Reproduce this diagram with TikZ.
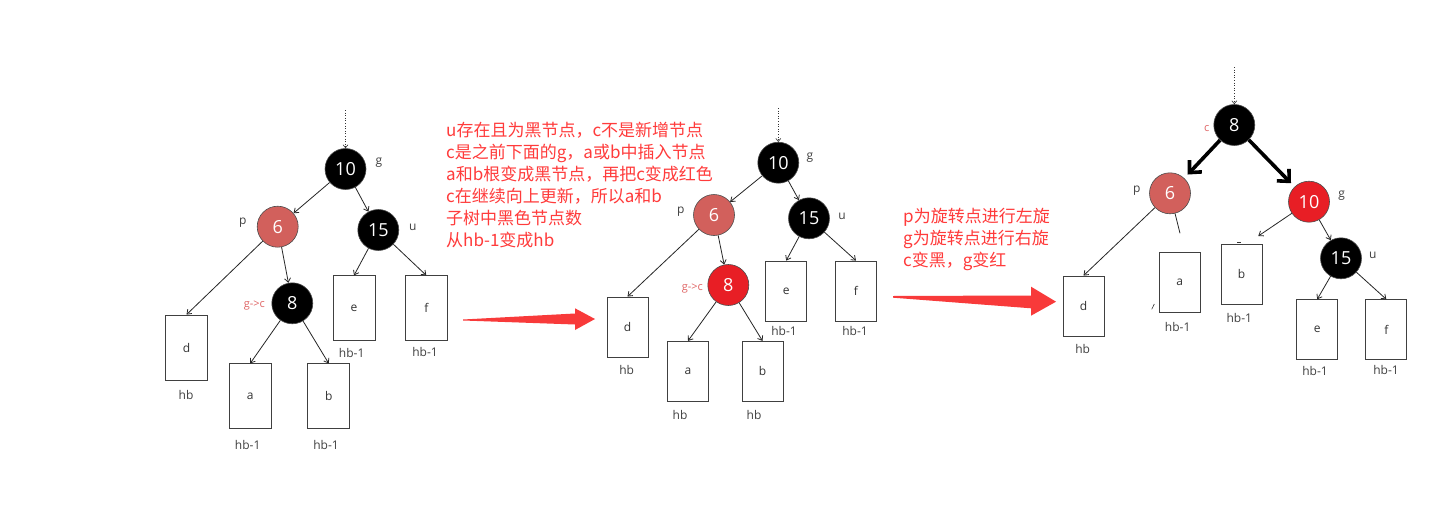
\documentclass[tikz,border=0pt]{standalone}
\usepackage{fontspec}
\setmainfont{Open Sans}
\newfontfamily\cjk{Noto Sans CJK SC}
\usetikzlibrary{arrows.meta}
\definecolor{tred}{HTML}{FF3B3B}
\definecolor{arrred}{HTML}{F83A3A}
\definecolor{pcol}{HTML}{D2605C}
\definecolor{rcol}{HTML}{E81E25}
\definecolor{tagc}{HTML}{E06666}
\tikzset{
  rb/.style={circle, draw=black!70, line width=0.6pt, minimum size=41pt, inner sep=0pt, text=white, font=\fontsize{18}{18}\selectfont},
  blk/.style={rb, fill=black},
  pnode/.style={rb, fill=pcol},
  rnode/.style={rb, fill=rcol},
  leaf/.style={draw=black!75, line width=0.8pt, minimum width=41pt, minimum height=60pt, inner sep=0pt, font=\fontsize{12}{12}\selectfont, text=black!80},
  leafA/.style={leaf, minimum width=42pt, minimum height=65pt},
  lbl/.style={font=\fontsize{12}{12}\selectfont, text=black!75, inner sep=0pt},
  tag/.style={font=\fontsize{11}{11}\selectfont, text=tagc, inner sep=0pt},
  edge/.style={draw=black!85, line width=0.8pt, -{Straight Barb[length=4pt,width=6pt]}},
  bigedge/.style={draw=black, line width=3.6pt, -{Straight Barb[length=9pt,width=17pt]}, shorten >=5pt},
  rootin/.style={draw=black!80, dotted, line width=0.6pt, -{Straight Barb[length=3pt,width=5pt]}},
  note/.style={font=\cjk\fontsize{17}{22}\selectfont, text=tred, align=left, anchor=north west, inner sep=0pt},
}
\begin{document}
\begin{tikzpicture}[x=1pt,y=-1pt]
\useasboundingbox[fill=white] (0,0) rectangle (1451,522);

% ---------------- Tree 1 ----------------
\coordinate (r1) at (345.5,110);
\node[blk]   (a10) at (345.5,169) {10};
\node[pnode] (a6)  at (277.7,226.7) {6};
\node[blk]   (a15) at (378.3,230) {15};
\node[blk]   (a8)  at (292.3,303.3) {8};
\node[lbl] at (379,163) {g};
\node[lbl] at (242.7,222.7) {p};
\node[lbl] at (412.7,227.3) {u};
\node[tag] at (254.3,305.7) {g->c};
\node[leafA] (ad) at (186.5,347.5) {d};
\node[leafA] (aa) at (250.2,396.3) {a};
\node[leafA] (ab) at (328.7,396.3) {b};
\node[leafA] (ae) at (354,308.3) {e};
\node[leafA] (af) at (426.3,308.3) {f};
\node[lbl] at (186,395) {hb};
\node[lbl] at (247.7,445) {hb-1};
\node[lbl] at (326,445) {hb-1};
\node[lbl] at (351.7,352.7) {hb-1};
\node[lbl] at (425,351.7) {hb-1};
\draw[rootin] (r1) -- (a10);
\draw[edge] (a10) -- (a6);
\draw[edge] (a10) -- (a15);
\draw[edge] (a6) -- (ad.north);
\draw[edge] (a6) -- (a8);
\draw[edge] (a8) -- (aa.north);
\draw[edge] (a8) -- (ab.north);
\draw[edge] (a15) -- (ae.north);
\draw[edge] (a15) -- (af.north);

% notes
\node[note] (n1) at (446,122) {u存在且为黑节点，c不是新增节点\\c是之前下面的g，a或b中插入节点\\a和b根变成黑节点，再把c变成红色\\c在继续向上更新，所以a和b\\子树中黑色节点数\\从hb-1变成hb};
\node[note] (n2) at (903,208) {p为旋转点进行左旋\\g为旋转点进行右旋\\c变黑，g变红};

% red arrows
\fill[arrred] (463,319.5) -- (575,313.5) -- (575,308.3) -- (595,319) -- (575,330) -- (575,324.5) -- (463,320.5) -- cycle;
\fill[arrred] (893,296) -- (1031,295.5) -- (1031,286.7) -- (1056,301.7) -- (1031,315.7) -- (1031,308.3) -- (893,297.7) -- cycle;

% ---------------- Tree 2 ----------------
\coordinate (r2) at (778.3,108);
\node[blk]   (b10) at (778.3,162.7) {10};
\node[pnode] (b6)  at (714,215) {6};
\node[blk]   (b15) at (809,218.3) {15};
\node[rnode] (b8)  at (728.3,285) {8};
\node[lbl] at (810,157.3) {g};
\node[lbl] at (680.7,211.7) {p};
\node[lbl] at (842,216.7) {u};
\node[tag] at (692.3,288.3) {g->c};
\node[leaf] (bd) at (627.5,327) {d};
\node[leaf] (ba) at (688,371.3) {a};
\node[leaf] (bb) at (762.5,371.3) {b};
\node[leaf] (be) at (786.2,291) {e};
\node[leaf] (bf) at (856,291) {f};
\node[lbl] at (626.7,370) {hb};
\node[lbl] at (680,415) {hb};
\node[lbl] at (754,415) {hb};
\node[lbl] at (784,331) {hb-1};
\node[lbl] at (855,331) {hb-1};
\draw[rootin] (r2) -- (b10);
\draw[edge] (b10) -- (b6);
\draw[edge] (b10) -- (b15);
\draw[edge] (b6) -- (bd.north);
\draw[edge] (b6) -- (b8);
\draw[edge] (b8) -- (ba.north);
\draw[edge] (b8) -- (bb.north);
\draw[edge] (b15) -- (be.north);
\draw[edge] (b15) -- (bf.north);

% ---------------- Tree 3 ----------------
\coordinate (r3) at (1234.3,67);
\node[blk]   (c8)  at (1234.3,125) {8};
\node[pnode] (c6)  at (1170,193.3) {6};
\node[rnode] (c10) at (1309,201.7) {10};
\node[blk]   (c15) at (1341,258.3) {15};
\node[tag] at (1206.7,128.3) {c};
\node[lbl] at (1136.7,190.7) {p};
\node[lbl] at (1341.7,196) {g};
\node[lbl] at (1372.7,255) {u};
\node[leaf] (cd) at (1083.5,306) {d};
\node[leaf] (ca) at (1179.7,282.5) {a};
\node[leaf] (cb) at (1241.5,274.3) {b};
\node[leaf] (ce) at (1317.2,329.7) {e};
\node[leaf] (cf) at (1386.3,329.7) {f};
\node[lbl] at (1082.7,349.3) {hb};
\node[lbl] at (1177.7,326.7) {hb-1};
\node[lbl] at (1239.3,318.3) {hb-1};
\node[lbl] at (1315,370.7) {hb-1};
\node[lbl] at (1386,370) {hb-1};
\coordinate (cstub) at (1180,233.3);
\coordinate (cbend) at (1258.3,236);
\draw[rootin] (r3) -- (c8);
\draw[bigedge] (c8) -- (c6);
\draw[bigedge] (c8) -- (c10);
\draw[edge] (c6) -- (cd.north);
\draw[draw=black!85, line width=0.8pt] (c6) -- (cstub);
\draw[edge] (c10) -- (cbend);
\draw[edge] (c10) -- (c15);
\draw[edge] (c15) -- (ce.north);
\draw[edge] (c15) -- (cf.north);
\draw[black!80, line width=0.6pt] (1151.7,309.3) -- (1154.3,304);
\draw[black!80, line width=0.8pt] (1237,242) -- (1241,242);
\end{tikzpicture}
\end{document}
